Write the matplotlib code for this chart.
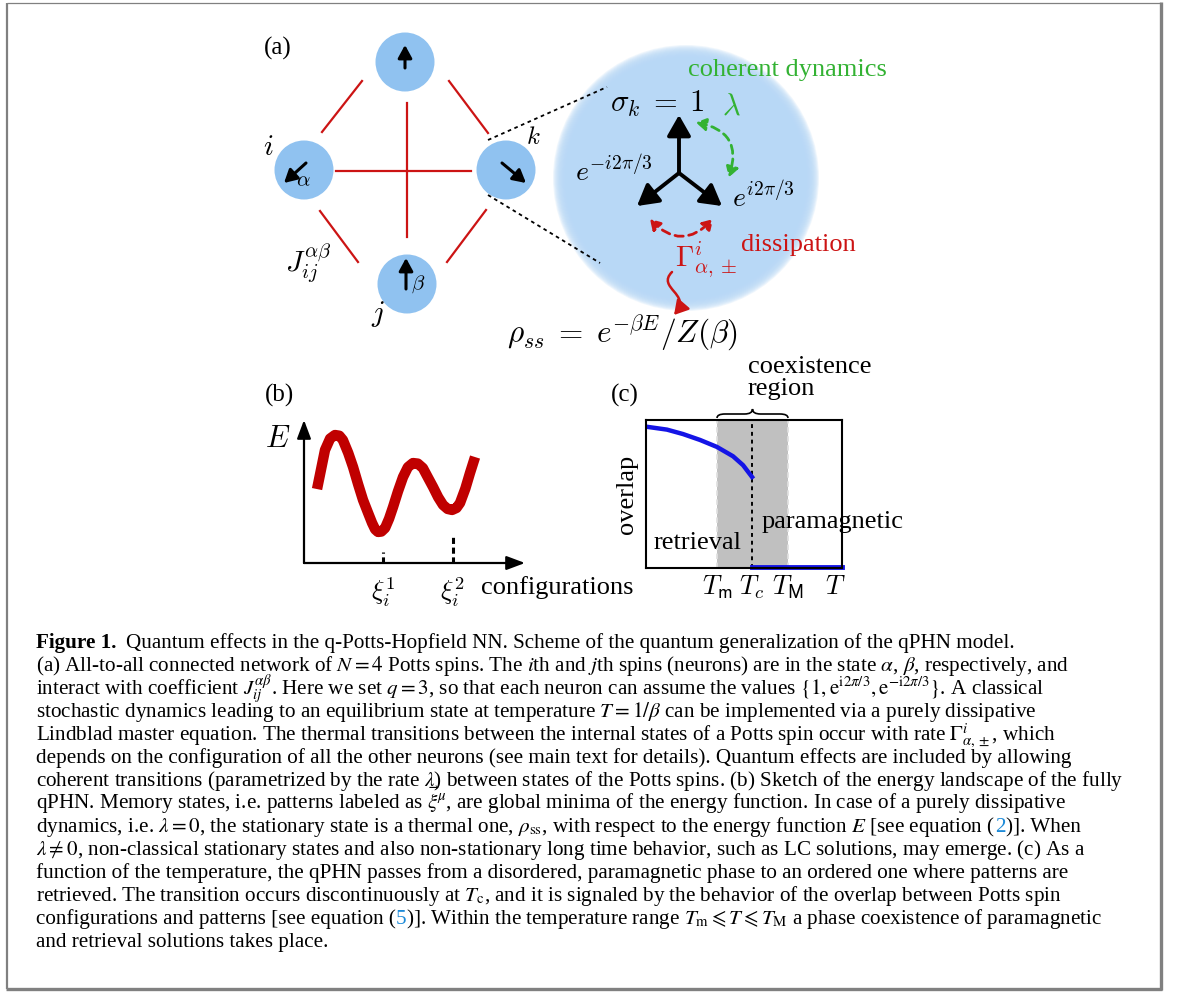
import numpy as np
import matplotlib.pyplot as plt
from matplotlib.patches import Circle, FancyArrowPatch, PathPatch
from matplotlib.path import Path

W, H = 1179, 992
SERIF = 'Liberation Serif'
RED = '#cc1414'
DARKRED = '#c00000'
GREEN = '#33b233'
BLUE = '#1414e6'
NODE = '#90c2f0'
BLOB = '#b8d8f6'

# ---- panel (a): four Potts spins, all-to-all couplings ----
node_x = [405, 304, 506, 407]
node_y = [62, 170, 170, 284]
node_r = 29.5
spin_tail_x = [405, 306, 502, 406]
spin_tail_y = [68, 163, 163, 289]
spin_tip_x = [405, 284, 526, 406]
spin_tip_y = [45, 183, 183, 258]
edge_x0 = [322, 449, 407, 336, 320, 447]
edge_y0 = [132, 81, 103, 171, 211, 262]
edge_x1 = [362, 488, 407, 471, 358, 486]
edge_y1 = [81, 133, 237, 171, 262, 210]

# zoomed spin k: three Potts states
blob_center = (686, 178)
blob_r = 123
star_center = (679, 173)
star_tip_x = [679, 637, 722]
star_tip_y = [115, 206, 206]

# ---- panel (b): energy landscape sketch ----
config = [0.059, 0.095, 0.118, 0.140, 0.160, 0.176, 0.200, 0.222, 0.245, 0.267,
          0.290, 0.308, 0.322, 0.335, 0.350, 0.367, 0.385, 0.403, 0.425, 0.448,
          0.470, 0.493, 0.515, 0.538, 0.560, 0.584, 0.607, 0.629, 0.650, 0.670,
          0.690, 0.706, 0.730, 0.751, 0.774]
energy = [0.517, 0.790, 0.870, 0.895, 0.890, 0.860, 0.770, 0.671, 0.550, 0.441,
          0.350, 0.280, 0.235, 0.217, 0.220, 0.245, 0.310, 0.392, 0.500, 0.601,
          0.670, 0.699, 0.695, 0.664, 0.600, 0.531, 0.460, 0.406, 0.378, 0.371,
          0.385, 0.420, 0.520, 0.629, 0.741]
minima = [0.357, 0.674]
minima_mark = [0.077, 0.196]
minima_labels = [r'$\xi_i^1$', r'$\xi_i^2$']

# ---- panel (c): overlap vs temperature ----
T_m, T_c, T_M = 0.362, 0.541, 0.724
retr_T = [0.0, 0.107, 0.189, 0.276, 0.362, 0.444, 0.495, 0.541]
retr_m = [0.955, 0.935, 0.905, 0.865, 0.818, 0.755, 0.695, 0.615]
para_T = [T_c, 1.0]
para_m = [0.01, 0.01]
T_ticks = [T_m, T_c, T_M, 0.964]
T_labels = [r'$T_\mathsf{m}$', r'$T_c$', r'$T_\mathsf{M}$', r'$T$']

caption = [
    [(r'Figure 1.', 'bold'), (r'Quantum effects in the q-Potts-Hopfield NN. Scheme of the quantum generalization of the qPHN model.', 'gap')],
    [(r'(a) All-to-all connected network of $N = 4$ Potts spins. The $i$th and $j$th spins (neurons) are in the state $\alpha$, $\beta$, respectively, and', '')],
    [(r'interact with coefficient $J_{ij}^{\alpha\beta}$. Here we set $q = 3$, so that each neuron can assume the values $\{1, \mathrm{e}^{\mathrm{i}2\pi/3}, \mathrm{e}^{-\mathrm{i}2\pi/3}\}$. A classical', '')],
    [(r'stochastic dynamics leading to an equilibrium state at temperature $T = 1/\beta$ can be implemented via a purely dissipative', '')],
    [(r'Lindblad master equation. The thermal transitions between the internal states of a Potts spin occur with rate $\Gamma^{i}_{\alpha,\pm}$, which', '')],
    [(r'depends on the configuration of all the other neurons (see main text for details). Quantum effects are included by allowing', '')],
    [(r'coherent transitions (parametrized by the rate $\lambda$) between states of the Potts spins. (b) Sketch of the energy landscape of the fully', '')],
    [(r'qPHN. Memory states, i.e. patterns labeled as $\vec{\xi}^{\mu}$, are global minima of the energy function. In case of a purely dissipative', '')],
    [(r'dynamics, i.e. $\lambda = 0$, the stationary state is a thermal one, $\rho_{\mathrm{ss}}$, with respect to the energy function $E$ [see equation (', ''),
     ('2', 'link'), (')]. When', '')],
    [(r'$\lambda \neq 0$, non-classical stationary states and also non-stationary long time behavior, such as LC solutions, may emerge. (c) As a', '')],
    [(r'function of the temperature, the qPHN passes from a disordered, paramagnetic phase to an ordered one where patterns are', '')],
    [(r'retrieved. The transition occurs discontinuously at $T_{\mathrm{c}}$, and it is signaled by the behavior of the overlap between Potts spin', '')],
    [(r'configurations and patterns [see equation (', ''), ('5', 'link'),
     (r')]. Within the temperature range $T_{\mathrm{m}} \leqslant T \leqslant T_{\mathrm{M}}$ a phase coexistence of paramagnetic', '')],
    [(r'and retrieval solutions takes place.', '')],
]

fig = plt.figure(figsize=(W / 100, H / 100), dpi=100)
ax = fig.add_axes([0, 0, 1, 1])
ax.set_xlim(0, W)
ax.set_ylim(H, 0)
ax.axis('off')

lab = dict(family=SERIF, fontsize=19, ha='center', va='center')
mth = dict(math_fontfamily='cm', ha='center', va='center')

# frame around the figure
ax.plot([7, 7], [2.5, 989], color='#808080', lw=1.6, solid_capstyle='butt')
ax.plot([7, 1161], [2.5, 2.5], color='#808080', lw=0.9, solid_capstyle='butt')
ax.plot([1160.5, 1160.5], [2, 990], color='#808080', lw=2.4, solid_capstyle='butt')
ax.plot([6, 1162], [988.5, 988.5], color='#808080', lw=2.4, solid_capstyle='butt')

# (a) network
ax.text(278, 48, '(a)', family=SERIF, fontsize=18, ha='center', va='center')
for x0, y0, x1, y1 in zip(edge_x0, edge_y0, edge_x1, edge_y1):
    ax.plot([x0, x1], [y0, y1], color=RED, lw=1.6)
for x, y in zip(node_x, node_y):
    ax.add_patch(Circle((x, y), node_r, color=NODE, lw=0))
for tx, ty, hx, hy in zip(spin_tail_x, spin_tail_y, spin_tip_x, spin_tip_y):
    ax.annotate('', xy=(hx, hy), xytext=(tx, ty),
                arrowprops=dict(arrowstyle='-|>,head_length=0.55,head_width=0.3',
                                lw=2.2, color='k', mutation_scale=14, shrinkA=0, shrinkB=0))
ax.text(303, 180, r'$\alpha$', fontsize=15, **mth)
ax.text(418, 284, r'$\beta$', fontsize=15, **mth)
ax.text(268, 147, r'$i$', fontsize=21, **mth)
ax.text(533, 137, r'$k$', fontsize=18, **mth)
ax.text(378, 314, r'$j$', fontsize=21, **mth)
ax.text(308, 263, r'$J_{ij}^{\alpha\beta}$', fontsize=21, **mth)

# dotted zoom lines towards spin k
ax.plot([488, 607], [140, 87], color='k', lw=1.3, ls=(0, (2, 2)))
ax.plot([488, 600], [195, 263], color='k', lw=1.3, ls=(0, (2, 2)))

# soft blob
nb = 24
for r in np.linspace(blob_r + 10, blob_r - 10, nb):
    ax.add_patch(Circle(blob_center, r, color=BLOB, alpha=0.2, lw=0))

for hx, hy in zip(star_tip_x, star_tip_y):
    ax.annotate('', xy=(hx, hy), xytext=star_center,
                arrowprops=dict(arrowstyle='-|>,head_length=0.7,head_width=0.4',
                                lw=2.8, color='k', mutation_scale=18, shrinkA=0, shrinkB=0))

ax.text(787, 70, 'coherent dynamics', color=GREEN, **lab)
ax.text(657, 104, r'$\sigma_k\;=\;1$', fontsize=22, **mth)
ax.text(731, 106, r'$\lambda$', fontsize=22, color=GREEN, **mth)
ax.text(614, 171, r'$e^{-i2\pi/3}$', fontsize=20, **mth)
ax.text(763, 197, r'$e^{i2\pi/3}$', fontsize=20, **mth)
ax.text(798, 245, 'dissipation', color=RED, **lab)
ax.text(706, 260, r'$\Gamma^i_{\alpha,\pm}$', fontsize=21, color=RED, **mth)
ax.text(622, 333, r'$\rho_{ss}\;=\;e^{-\beta E}/Z(\beta)$', fontsize=22.5, **mth)

ax.add_patch(FancyArrowPatch((693, 122), (728, 180), connectionstyle='arc3,rad=-0.6',
                             arrowstyle='<|-|>,head_length=0.5,head_width=0.3', mutation_scale=12,
                             color=GREEN, lw=2, ls=(0, (3, 2))))
ax.add_patch(FancyArrowPatch((648, 217), (715, 217), connectionstyle='arc3,rad=0.55',
                             arrowstyle='<|-|>,head_length=0.5,head_width=0.3', mutation_scale=12,
                             color=RED, lw=2, ls=(0, (3, 2))))
squiggle = Path([(672, 272), (656, 288), (692, 294), (674, 315)],
                [Path.MOVETO, Path.CURVE4, Path.CURVE4, Path.CURVE4])
ax.add_patch(FancyArrowPatch(path=squiggle, arrowstyle='-|>,head_length=0.6,head_width=0.35',
                             mutation_scale=14, color=RED, lw=1.8))

# (b) energy landscape
ax.text(280, 395, '(b)', family=SERIF, fontsize=18, ha='center', va='center')
axb = fig.add_axes([304 / W, 1 - 563 / H, 221 / W, 143 / H])
axb.set_xlim(0, 1)
axb.set_ylim(0, 1)
axb.patch.set_alpha(0)
for s in axb.spines.values():
    s.set_visible(False)
axb.annotate('', xy=(0, 1.0), xytext=(0, 0), xycoords='axes fraction',
             arrowprops=dict(arrowstyle='-|>,head_length=0.8,head_width=0.3', lw=1.6,
                             color='k', mutation_scale=14, shrinkA=0, shrinkB=0))
axb.annotate('', xy=(1.0, 0), xytext=(0, 0), xycoords='axes fraction',
             arrowprops=dict(arrowstyle='-|>,head_length=0.8,head_width=0.3', lw=1.6,
                             color='k', mutation_scale=14, shrinkA=0, shrinkB=0))
axb.plot(config, energy, color=DARKRED, lw=7.5, solid_joinstyle='round', solid_capstyle='butt')
for xm, hm in zip(minima, minima_mark):
    axb.plot([xm, xm], [0, hm], color='k', lw=2.2, ls=(0, (2, 1.2)))
axb.set_xticks(minima, minima_labels, math_fontfamily='cm', fontsize=19)
axb.tick_params(axis='x', length=0, pad=9)
axb.set_yticks([])
axb.text(-0.118, 0.874, r'$E$', transform=axb.transAxes, fontsize=22, **mth)
axb.text(1.145, -0.168, 'configurations', transform=axb.transAxes, **lab)

# (c) overlap vs temperature
ax.text(625, 395, '(c)', family=SERIF, fontsize=18, ha='center', va='center')
axc = fig.add_axes([646 / W, 1 - 568 / H, 196 / W, 148 / H])
axc.set_xlim(0, 1)
axc.set_ylim(0, 1)
axc.axvspan(T_m, T_M, color='#c0c0c0', lw=0)
axc.axvline(T_m, color='#e0e0e0', lw=1.3, ls=(0, (3, 2)))
axc.axvline(T_M, color='#e0e0e0', lw=1.3, ls=(0, (3, 2)))
axc.axvline(T_c, color='k', lw=1.4, ls=(0, (2, 2)))
axc.plot(retr_T, retr_m, color=BLUE, lw=3.2)
axc.plot(para_T, para_m, color=BLUE, lw=3.5, clip_on=False)
for s in axc.spines.values():
    s.set_linewidth(1.5)
axc.set_xticks(T_ticks, T_labels, math_fontfamily='cm', fontsize=19)
axc.tick_params(axis='x', length=0, pad=4)
axc.set_yticks([])
axc.set_ylabel('overlap', family=SERIF, fontsize=19, labelpad=6)
axc.text(0.262, 0.17, 'retrieval', transform=axc.transAxes, **lab)
axc.text(0.95, 0.31, 'paramagnetic', transform=axc.transAxes, **lab)

# curly brace over the coexistence region
bx0, bx1, bm = 717, 788, 752.5
y_end, y_mid, y_tip = 418, 414, 409
brace = Path([(bx0, y_end), (bx0, y_mid), (bx0 + 8, y_mid), (bm - 8, y_mid),
              (bm, y_mid), (bm, y_tip), (bm, y_mid), (bm + 8, y_mid),
              (bx1 - 8, y_mid), (bx1, y_mid), (bx1, y_end)],
             [Path.MOVETO, Path.CURVE3, Path.CURVE3, Path.LINETO,
              Path.CURVE3, Path.CURVE3, Path.CURVE3, Path.CURVE3,
              Path.LINETO, Path.CURVE3, Path.CURVE3])
ax.add_patch(PathPatch(brace, fill=False, lw=1.2, color='k'))
ax.text(748, 367, 'coexistence', family=SERIF, fontsize=19, ha='left', va='center')
ax.text(748, 389, 'region', family=SERIF, fontsize=19, ha='left', va='center')

# caption
renderer = fig.canvas.get_renderer()
cap_size = 15.2
y0, dy = 648, 23.0
for k, line in enumerate(caption):
    x = 36
    y = y0 + k * dy
    for text, style in line:
        kw = dict(family=SERIF, fontsize=cap_size, math_fontfamily='stix', va='baseline')
        if style == 'bold':
            kw['weight'] = 'bold'
        if style == 'gap':
            x += 10
        if style == 'link':
            kw['color'] = '#1c8ad8'
        t = ax.text(x, y, text, **kw)
        x = t.get_window_extent(renderer).x1

fig.savefig('out.png', dpi=100)
